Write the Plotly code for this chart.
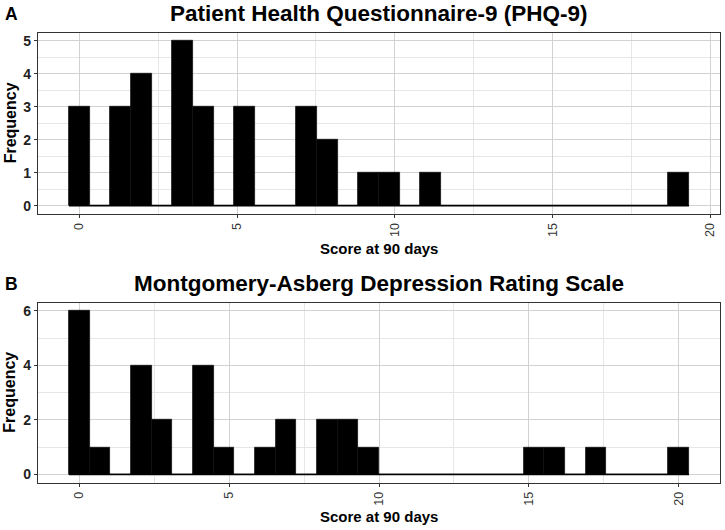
import numpy as np
import plotly.graph_objects as go

# ---- data (integer scores at 90 days and how many patients had each) ----
phq_scores = [0, 1, 2, 3, 4, 5, 7, 8, 9, 10, 11, 19]
phq_freq = [3, 3, 4, 5, 3, 3, 3, 2, 1, 1, 1, 1]

madrs_scores = [0, 1, 2, 3, 4, 5, 6, 7, 8, 9, 10, 15, 16, 17, 20]
madrs_freq = [6, 1, 4, 2, 4, 1, 1, 2, 2, 2, 1, 1, 1, 1, 1]

titles = ["Patient Health Questionnaire-9 (PHQ-9)",
          "Montgomery-Asberg Depression Rating Scale"]
panel_letters = ["A", "B"]
x_ticks = [0, 5, 10, 15, 20]
x_label = "Score at 90 days"
y_label = "Frequency"
N_BINS = 30


def gg_hist(scores, freq, bins=N_BINS):
    """ggplot2-style histogram: bins centred on the min, right-closed."""
    vals = np.repeat(np.asarray(scores, float), freq)
    lo, hi = vals.min(), vals.max()
    bw = (hi - lo) / (bins - 1)
    e0 = lo - bw / 2
    idx = np.ceil((vals - e0) / bw - 1e-9).astype(int) - 1
    idx = np.clip(idx, 0, bins - 1)
    counts = np.bincount(idx, minlength=bins)
    centers = lo + bw * np.arange(bins)
    return centers, counts, bw, e0, e0 + bins * bw


W, H = 725, 530
px_left, px_right = 38, 720
panels_px = [(32.7, 214.0), (302.7, 482.7)]   # top, bottom of plot areas
y_dticks = [1, 2]

fig = go.Figure()
annotations = []
data_sets = [(phq_scores, phq_freq), (madrs_scores, madrs_freq)]

for i, (sc, fq) in enumerate(data_sets):
    centers, counts, bw, e_lo, e_hi = gg_hist(sc, fq)
    xa = "x" if i == 0 else "x2"
    ya = "y" if i == 0 else "y2"
    # zero-height bins outline (drawn as baseline under the bars)
    fig.add_trace(go.Scatter(x=[e_lo, e_hi], y=[0, 0], mode="lines",
                             line=dict(color="black", width=1.3),
                             xaxis=xa, yaxis=ya, showlegend=False,
                             hoverinfo="skip"))
    fig.add_trace(go.Bar(x=centers, y=counts, width=bw,
                         marker=dict(color="black",
                                     line=dict(color="#111111", width=0.8)),
                         xaxis=xa, yaxis=ya, showlegend=False))

    span = e_hi - e_lo
    xr = [e_lo - 0.05 * span, e_hi + 0.05 * span]
    ymax = counts.max()
    yr = [-0.05 * ymax, ymax * 1.05]

    top, bot = panels_px[i]
    ydom = [1 - bot / H, 1 - top / H]
    xdom = [px_left / W, px_right / W]

    axis_common = dict(showline=True, mirror=True, linecolor="#333333",
                       linewidth=1.3, ticks="outside", ticklen=3,
                       tickcolor="#333333", tickwidth=1, zeroline=False,
                       showgrid=True, gridcolor="#d2d2d2", gridwidth=1)
    xkey = "xaxis" if i == 0 else "xaxis2"
    ykey = "yaxis" if i == 0 else "yaxis2"
    fig.update_layout(**{
        xkey: dict(axis_common, domain=xdom, range=xr, anchor=ya,
                   tickmode="array", tickvals=x_ticks,
                   ticktext=[str(t) for t in x_ticks], tickangle=-90,
                   tickfont=dict(family="Liberation Sans", size=12.5,
                                 color="#333333"),
                   minor=dict(dtick=2.5, tick0=0, showgrid=True,
                              gridcolor="#e6e6e6", gridwidth=1, ticks="")),
        ykey: dict(axis_common, domain=ydom, range=yr, anchor=xa,
                   dtick=y_dticks[i], tick0=0,
                   tickfont=dict(family="Liberation Sans", size=14,
                                 color="#222222", weight="bold"),
                   minor=dict(dtick=y_dticks[i] / 2, tick0=0, showgrid=True,
                              gridcolor="#e6e6e6", gridwidth=1, ticks="")),
    })

    cx = (px_left + px_right) / 2 / W
    # panel title
    annotations.append(dict(text=f"<b>{titles[i]}</b>", xref="paper",
                            yref="paper", x=cx, y=1 - (top - 19.5) / H,
                            xanchor="center", yanchor="middle",
                            showarrow=False,
                            font=dict(family="Liberation Sans", size=22.5,
                                      color="black")))
    # panel letter
    annotations.append(dict(text=f"<b>{panel_letters[i]}</b>", xref="paper",
                            yref="paper", x=3 / W, y=1 - (top - 18.5) / H,
                            xanchor="left", yanchor="middle",
                            showarrow=False,
                            font=dict(family="Liberation Sans", size=17.5,
                                      color="black")))
    # x axis title
    annotations.append(dict(text=f"<b>{x_label}</b>", xref="paper",
                            yref="paper", x=cx, y=1 - (bot + 34) / H,
                            xanchor="center", yanchor="middle",
                            showarrow=False,
                            font=dict(family="Liberation Sans", size=15,
                                      color="black")))
    # y axis title
    annotations.append(dict(text=f"<b>{y_label}</b>", xref="paper",
                            yref="paper", x=10 / W,
                            y=1 - (top + bot) / 2 / H,
                            xanchor="center", yanchor="middle",
                            textangle=-90, showarrow=False,
                            font=dict(family="Liberation Sans", size=16,
                                      color="black")))

fig.update_layout(width=W, height=H, margin=dict(l=0, r=0, t=0, b=0),
                  paper_bgcolor="white", plot_bgcolor="white",
                  bargap=0, annotations=annotations,
                  font=dict(family="Liberation Sans"))

fig.write_html("out.html",
               config={"displayModeBar": False},
               post_script="document.body.style.margin='0';"
                           "document.body.style.padding='0';")
